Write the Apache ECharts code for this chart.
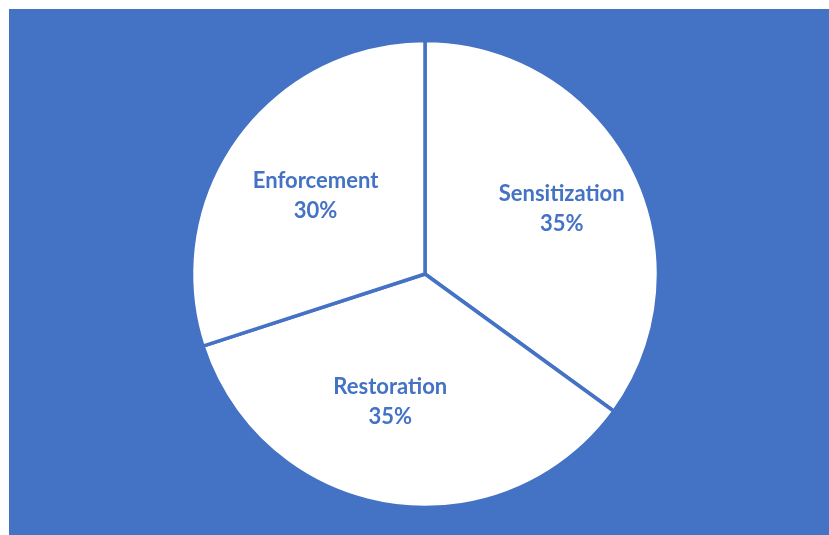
<!DOCTYPE html>
<html>
<head>
<meta charset="utf-8">
<script src="https://cdn.jsdelivr.net/npm/echarts@6/dist/echarts.min.js"></script>
<style>
  html, body { margin: 0; padding: 0; background: #ffffff; }
  #chart { position: absolute; left: 9px; top: 9px; width: 820px; height: 526px; }
</style>
</head>
<body>
<div id="chart"></div>
<script>
// Share of effort by activity (percent)
const categories = ['Sensitization', 'Restoration', 'Enforcement'];
const shares = [35, 35, 30];

// Label nudges (px) away from the default inner label position
const labelNudges = [[30, -11], [-16, 9.5], [-12.5, -7.5]];

const BLUE = '#4472C4';

const chart = echarts.init(document.getElementById('chart'), null, { renderer: 'canvas' });

chart.setOption({
  backgroundColor: BLUE,
  animation: false,
  series: [{
    type: 'pie',
    center: [416, 265],
    radius: [0, 233.5],
    startAngle: 90,
    clockwise: true,
    silent: true,
    itemStyle: {
      color: '#ffffff',
      borderColor: BLUE,
      borderWidth: 3.5
    },
    label: {
      show: true,
      position: 'inner',
      color: BLUE,
      fontFamily: 'Lato',
      fontWeight: 'bold',
      fontSize: 22,
      lineHeight: 30,
      formatter: p => p.name + '\n' + p.value + '%'
    },
    labelLine: { show: false },
    labelLayout: params => {
      const n = labelNudges[params.dataIndex];
      return { dx: n[0], dy: n[1] };
    },
    data: categories.map((name, i) => ({ name, value: shares[i] }))
  }]
});
</script>
</body>
</html>
